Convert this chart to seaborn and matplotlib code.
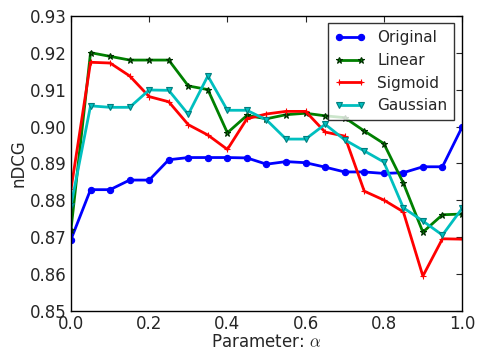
import matplotlib
matplotlib.use("Agg")
import matplotlib.pyplot as plt
import seaborn as sns
import pandas as pd

alpha = [0.0, 0.05, 0.1, 0.15, 0.2, 0.25, 0.3, 0.35, 0.4, 0.45, 0.5,
         0.55, 0.6, 0.65, 0.7, 0.75, 0.8, 0.85, 0.9, 0.95, 1.0]
original = [0.8694, 0.8829, 0.8829, 0.8855, 0.8855, 0.8910, 0.8916, 0.8916, 0.8916, 0.8915, 0.8898,
            0.8905, 0.8902, 0.8890, 0.8877, 0.8877, 0.8873, 0.8875, 0.8891, 0.8891, 0.8998]
linear = [0.8721, 0.9200, 0.9190, 0.9180, 0.9180, 0.9180, 0.9110, 0.9100, 0.8983, 0.9030, 0.9021,
          0.9032, 0.9036, 0.9029, 0.9024, 0.8988, 0.8954, 0.8847, 0.8714, 0.8761, 0.8763]
sigmoid = [0.8830, 0.9174, 0.9172, 0.9137, 0.9081, 0.9067, 0.9005, 0.8977, 0.8938, 0.9021, 0.9034,
           0.9041, 0.9041, 0.8985, 0.8974, 0.8825, 0.8801, 0.8769, 0.8595, 0.8696, 0.8695]
gaussian = [0.8786, 0.9056, 0.9052, 0.9052, 0.9099, 0.9098, 0.9033, 0.9137, 0.9044, 0.9044, 0.9018,
            0.8966, 0.8966, 0.9006, 0.8964, 0.8934, 0.8904, 0.8780, 0.8744, 0.8706, 0.8778]
series_names = ["Original", "Linear", "Sigmoid", "Gaussian"]
yticks = [0.85, 0.86, 0.87, 0.88, 0.89, 0.90, 0.91, 0.92, 0.93]
xticks = [0.0, 0.2, 0.4, 0.6, 0.8, 1.0]

sns.set_style("white")
plt.rcParams['font.family'] = ['DejaVu Sans']
plt.rcParams['mathtext.fontset'] = 'cm'

fig = plt.figure(figsize=(4.78, 3.5), dpi=100)
ax = fig.add_axes([0.1485, 0.111, 0.818, 0.844])

styles = {
    "Original": dict(color="#0000ff", marker="o", markersize=4.5, mec="#0000ff"),
    "Linear": dict(color="#008000", marker="*", markersize=5, mec="#003000"),
    "Sigmoid": dict(color="#ff0000", marker="+", markersize=5, mec="#ff0000"),
    "Gaussian": dict(color="#00bfbf", marker="v", markersize=4.5, mec="#007f7f"),
}
for name, vals in zip(series_names, [original, linear, sigmoid, gaussian]):
    df = pd.DataFrame({"alpha": alpha, "nDCG": vals})
    st = styles[name]
    sns.lineplot(data=df, x="alpha", y="nDCG", ax=ax, color=st["color"], marker=st["marker"],
                 markersize=st["markersize"], markeredgecolor=st["mec"],
                 markeredgewidth=0.8, linewidth=2, label=name, estimator=None)

ax.set_xlim(0, 1)
ax.set_ylim(0.85, 0.93)
ax.set_xticks(xticks)
ax.set_yticks(yticks)
ax.set_xticklabels([f"{t:.1f}" for t in xticks])
ax.set_yticklabels([f"{t:.2f}" for t in yticks])
ax.tick_params(direction="in", top=True, right=True, length=4, width=0.8, labelsize=12, pad=3)
for s in ax.spines.values():
    s.set_color("black")
    s.set_linewidth(1)
ax.set_xlabel(r"Parameter: $\alpha$", fontsize=12, labelpad=0)
ax.set_ylabel("nDCG", fontsize=12, labelpad=2)
leg = ax.legend(loc="upper right", fontsize=11, frameon=True, fancybox=False, numpoints=2,
                handlelength=2.0, borderpad=0.45, labelspacing=0.5, borderaxespad=0.5)
leg.get_frame().set_edgecolor("black")
leg.get_frame().set_linewidth(1)

fig.savefig("out.png", dpi=100, facecolor="white")
